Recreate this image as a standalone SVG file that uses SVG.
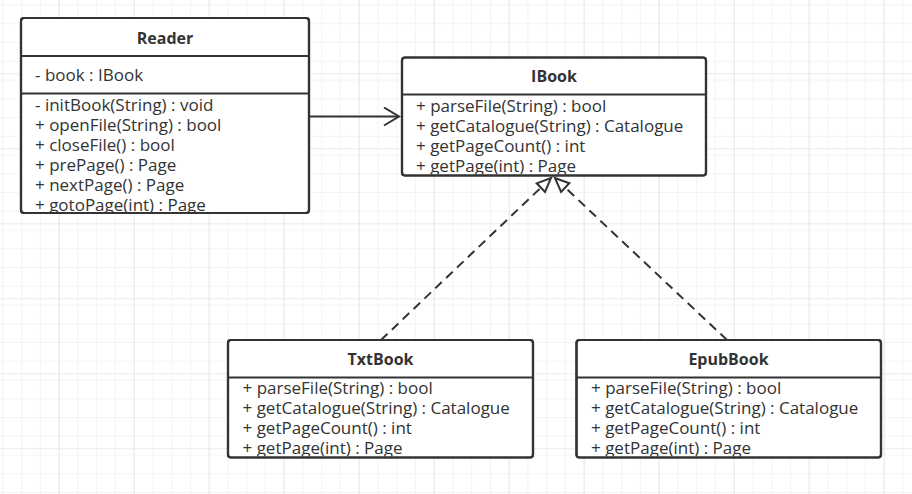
<svg xmlns="http://www.w3.org/2000/svg" width="912" height="494" viewBox="0 0 912 494">
<defs>
<pattern id="minor" x="2.45" y="4.55" width="18.75" height="18.75" patternUnits="userSpaceOnUse">
<path d="M0 0H18.75M0 0V18.75" fill="none" stroke="#f0f0f0" stroke-width="1.5"/>
</pattern>
<pattern id="major" x="58.7" y="73.3" width="75" height="75" patternUnits="userSpaceOnUse">
<path d="M0 0H75M0 0V75" fill="none" stroke="#e4e4e4" stroke-width="1.5"/>
</pattern>
<marker id="open" markerWidth="20" markerHeight="20" refX="16" refY="10" orient="auto" markerUnits="userSpaceOnUse">
<path d="M1 1L16 10L1 19" fill="none" stroke="#333" stroke-width="2"/>
</marker>
<marker id="tri" markerWidth="20" markerHeight="20" refX="17" refY="10" orient="auto" markerUnits="userSpaceOnUse">
<path d="M3 4L17 10L3 16Z" fill="#fff" stroke="#333" stroke-width="2"/>
</marker>
<clipPath id="cR"><rect x="21" y="18" width="288" height="194"/></clipPath>
<clipPath id="cI"><rect x="402" y="57.5" width="304" height="117"/></clipPath>
<clipPath id="cT"><rect x="228" y="340" width="305" height="116.5"/></clipPath>
<clipPath id="cE"><rect x="576.5" y="340" width="304.5" height="116.5"/></clipPath>
</defs>
<style>
.box{fill:#fff;stroke:#333;stroke-width:2.2}
.frame{fill:none;stroke:#333;stroke-width:2.2}
.div{stroke:#333;stroke-width:2}
text{font-family:"Open Sans","Noto Sans",sans-serif;font-size:17px;fill:#333}
.t{font-weight:bold;text-anchor:middle;font-size:16px}
.edge{fill:none;stroke:#333;stroke-width:2}
.dash{stroke-dasharray:9 6}
</style>
<rect width="912" height="494" fill="#fff"/>
<rect width="912" height="494" fill="url(#minor)"/>
<rect width="912" height="494" fill="url(#major)"/>
<g id="connectors">
<path class="edge" d="M310 116.5H399" marker-end="url(#open)"/>
<path class="edge dash" d="M381 340L551 178" marker-end="url(#tri)"/>
<path class="edge dash" d="M727 340L555 178" marker-end="url(#tri)"/>
</g>
<g id="Reader">
<rect class="box" x="21" y="18" width="288" height="195" rx="3"/>
<g clip-path="url(#cR)">
<text class="t" x="165" y="44.3">Reader</text>
<text x="35" y="81">- book : IBook</text>
<text x="35" y="110.5">- initBook(String) : void</text>
<text x="35" y="130.5">+ openFile(String) : bool</text>
<text x="35" y="150.5">+ closeFile() : bool</text>
<text x="35" y="170.5">+ prePage() : Page</text>
<text x="35" y="190.5">+ nextPage() : Page</text>
<text x="35" y="210.5">+ gotoPage(int) : Page</text>
</g>
<line class="div" x1="21" y1="56" x2="309" y2="56"/>
<line class="div" x1="21" y1="93.5" x2="309" y2="93.5"/>
<rect class="frame" x="21" y="18" width="288" height="195" rx="3"/>
</g>
<g id="IBook">
<rect class="box" x="402" y="57.5" width="304" height="118" rx="3"/>
<g clip-path="url(#cI)">
<text class="t" x="554" y="82.3">IBook</text>
<text x="416" y="111.5">+ parseFile(String) : bool</text>
<text x="416" y="131.5">+ getCatalogue(String) : Catalogue</text>
<text x="416" y="151.5">+ getPageCount() : int</text>
<text x="416" y="171.5">+ getPage(int) : Page</text>
</g>
<line class="div" x1="402" y1="94.5" x2="706" y2="94.5"/>
<rect class="frame" x="402" y="57.5" width="304" height="118" rx="3"/>
</g>
<g id="TxtBook">
<rect class="box" x="228" y="340" width="305" height="117.5" rx="3"/>
<g clip-path="url(#cT)">
<text class="t" x="380.5" y="365">TxtBook</text>
<text x="242.5" y="394">+ parseFile(String) : bool</text>
<text x="242.5" y="414">+ getCatalogue(String) : Catalogue</text>
<text x="242.5" y="434">+ getPageCount() : int</text>
<text x="242.5" y="454">+ getPage(int) : Page</text>
</g>
<line class="div" x1="228" y1="377.5" x2="533" y2="377.5"/>
<rect class="frame" x="228" y="340" width="305" height="117.5" rx="3"/>
</g>
<g id="EpubBook">
<rect class="box" x="576.5" y="340" width="304.5" height="117.5" rx="3"/>
<g clip-path="url(#cE)">
<text class="t" x="728.5" y="365">EpubBook</text>
<text x="591" y="394">+ parseFile(String) : bool</text>
<text x="591" y="414">+ getCatalogue(String) : Catalogue</text>
<text x="591" y="434">+ getPageCount() : int</text>
<text x="591" y="454">+ getPage(int) : Page</text>
</g>
<line class="div" x1="576.5" y1="377.5" x2="881" y2="377.5"/>
<rect class="frame" x="576.5" y="340" width="304.5" height="117.5" rx="3"/>
</g>
</svg>
